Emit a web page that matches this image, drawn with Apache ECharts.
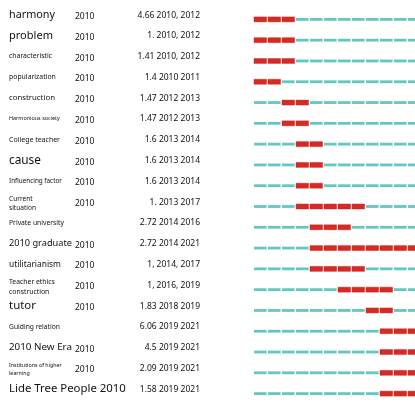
<!DOCTYPE html>
<html>
<head>
<meta charset="utf-8">
<script src="https://cdn.jsdelivr.net/npm/echarts@6/dist/echarts.min.js"></script>
<style>
  html, body { margin: 0; padding: 0; background: #fff; }
  #burst-chart { width: 415px; height: 404px; }
</style>
</head>
<body>
<div id="burst-chart"></div>
<script>
// keyword burst table
const keywords = [
  "harmony", "problem", "characteristic", "popularization", "construction",
  "Harmonious society", "College teacher", "cause", "Influencing factor",
  "Current\nsituation", "Private university", "2010 graduate", "utilitarianism",
  "Teacher ethics\nconstruction", "tutor", "Guiding relation", "2010 New Era",
  "Institutions of higher\nlearning", "Lide Tree People 2010",
];
const yearLabels = [
  "2010", "2010", "2010", "2010", "2010", "2010", "2010", "2010", "2010",
  "2010", "", "2010", "2010", "2010", "2010", "", "2010", "2010", "",
];
const strengthLabels = [
  "4.66 2010, 2012", "1. 2010, 2012", "1.41 2010, 2012", "1.4 2010 2011",
  "1.47 2012 2013", "1.47 2012 2013", "1.6 2013 2014", "1.6 2013 2014",
  "1.6 2013 2014", "1. 2013 2017", "2.72 2014 2016", "2.72 2014 2021",
  "1, 2014, 2017", "1, 2016, 2019", "1.83 2018 2019", "6.06 2019 2021",
  "4.5 2019 2021", "2.09 2019 2021", "1.58 2019 2021",
];
const burstBegin = [2010, 2010, 2010, 2010, 2012, 2012, 2013, 2013, 2013, 2013, 2014, 2014, 2014, 2016, 2018, 2019, 2019, 2019, 2019];
const burstEnd = [2012, 2012, 2012, 2011, 2013, 2013, 2014, 2014, 2014, 2017, 2016, 2021, 2017, 2019, 2019, 2021, 2021, 2021, 2021];
const timeline = [2010, 2011, 2012, 2013, 2014, 2015, 2016, 2017, 2018, 2019, 2020, 2021];

// the source draws keywords at mixed sizes; this is the printed width of each (px)
const keywordWidth = [46, 44, 43, 47, 46, 51, 51, 32, 53, 27, 55, 63, 52, 46, 27, 51, 63, 53, 117];

const RED = "#d62b24";
const TEAL = "#62c9c2";
const FONT = "'Noto Sans', 'Open Sans', sans-serif";
const INK = "#111";

const rows = keywords.map((_, i) => i);

const measureCtx = document.createElement("canvas").getContext("2d");
measureCtx.font = "100px " + FONT;

function fitFontSize(text, width) {
  const widest = Math.max(...text.split("\n").map((t) => measureCtx.measureText(t).width));
  return widest ? (width / widest) * 100 : 10;
}

const keywordFontSize = keywords.map((k, i) => fitFontSize(k, keywordWidth[i]));

const segments = [];
for (const r of rows) {
  for (const y of timeline) {
    const hot = y >= burstBegin[r] && y <= burstEnd[r] ? 1 : 0;
    segments.push([y, r, hot]);
  }
}

function renderSegment(params, api) {
  const year = api.value(0);
  const row = api.value(1);
  const hot = api.value(2) === 1;
  const a = api.coord([year, row]);
  const b = api.coord([year + 1, row]);
  const h = hot ? 5 : 2.8;
  return {
    type: "rect",
    shape: { x: a[0], y: a[1] - h / 2, width: b[0] - a[0] - 1.4, height: h },
    style: hot
      ? { fill: RED, stroke: "#c22019", lineWidth: 0.4 }
      : { fill: TEAL },
  };
}

function renderRowText(params, api) {
  const row = api.value(0);
  const cy = api.coord([2010, row])[1];
  const kw = keywords[row];
  const multi = kw.includes("\n");
  const fs = keywordFontSize[row];
  const children = [
    {
      type: "text",
      style: {
        text: kw,
        x: 9,
        y: cy - (multi ? 3 : 4.5),
        fill: INK,
        fontFamily: FONT,
        fontSize: fs,
        lineHeight: multi ? fs * 1.45 : fs * 1.2,
        align: "left",
        verticalAlign: "middle",
      },
    },
    {
      type: "text",
      style: {
        text: strengthLabels[row],
        x: 200,
        y: cy - 4.3,
        fill: INK,
        fontFamily: FONT,
        fontSize: 8.5,
        align: "right",
        verticalAlign: "middle",
      },
    },
  ];
  if (yearLabels[row]) {
    children.push({
      type: "text",
      style: {
        text: yearLabels[row],
        x: 75,
        y: cy - 2.8,
        fill: INK,
        fontFamily: FONT,
        fontSize: 8.5,
        align: "left",
        verticalAlign: "middle",
      },
    });
  }
  return { type: "group", children };
}

const chart = echarts.init(document.getElementById("burst-chart"), null, { renderer: "canvas" });

chart.setOption({
  animation: false,
  grid: { left: 254, right: 0, top: 9, height: 403 },
  xAxis: {
    type: "value",
    min: 2010,
    max: 2021.5,
    show: false,
  },
  yAxis: {
    type: "category",
    data: rows,
    inverse: true,
    show: false,
  },
  series: [
    {
      type: "custom",
      clip: false,
      renderItem: renderSegment,
      encode: { x: 0, y: 1 },
      data: segments,
    },
    {
      type: "custom",
      clip: false,
      renderItem: renderRowText,
      encode: { y: 0 },
      data: rows.map((r) => [r]),
    },
  ],
});
</script>
</body>
</html>
